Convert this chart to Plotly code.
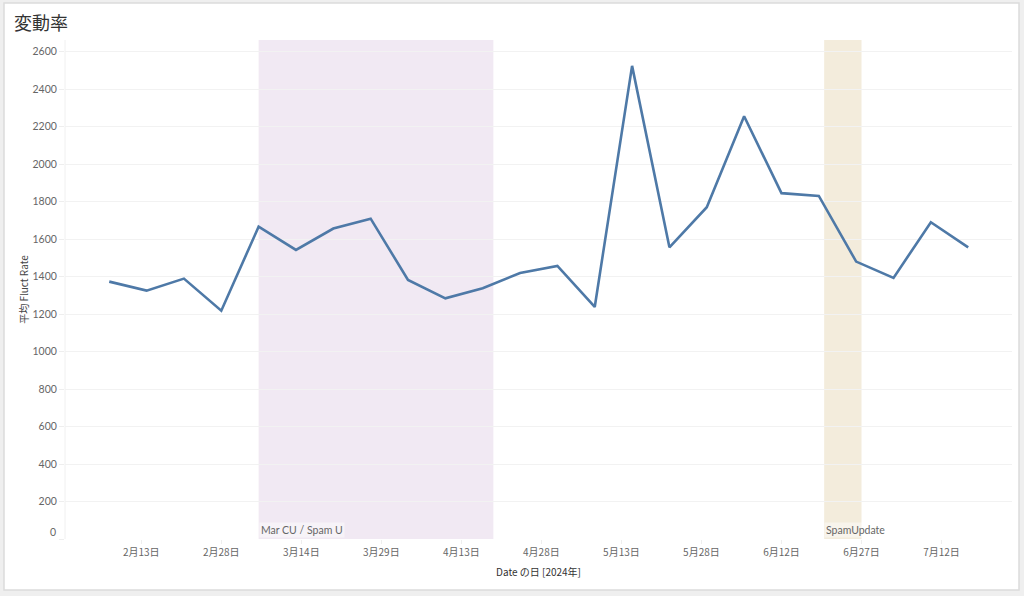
import plotly.graph_objects as go
import pandas as pd

# ---- data ----
dates = pd.date_range("2024-02-07", periods=24, freq="7D").strftime("%Y-%m-%d").tolist()
fluct_rate = [1373, 1325, 1389, 1218, 1666, 1542, 1656, 1709, 1382, 1284, 1338, 1419,
              1457, 1238, 2524, 1556, 1770, 2255, 1845, 1830, 1480, 1393, 1690, 1556]

band_labels = ["Mar CU / Spam U", "SpamUpdate"]
band_starts = ["2024-03-06", "2024-06-20"]
band_ends = ["2024-04-19", "2024-06-27"]
band_colors = ["rgba(241,233,243,1)", "rgba(243,236,220,1)"]

tick_dates = pd.date_range("2024-02-13", periods=11, freq="15D").strftime("%Y-%m-%d").tolist()
y_ticks = list(range(0, 2601, 200))
y_ticktext = ["" if v == 0 else str(v) for v in y_ticks]

x_range = ["2024-01-29 17:00", "2024-07-25 05:00"]
y_range = [0, 2662]

# ---- figure ----
W, H = 1024, 596
ML, MR, MT, MB = 65, 12, 40, 57
PW, PH = W - ML - MR, H - MT - MB


def px_x(p):
    return (p - ML) / PW


def px_y(p):
    return (H - MB - p) / PH


font_jp = "Noto Sans CJK JP, Lato, sans-serif"

fig = go.Figure()

fig.add_trace(go.Scatter(
    x=dates, y=fluct_rate, mode="lines",
    line=dict(color="#4e79a7", width=2.6),
    showlegend=False, hoverinfo="x+y",
))

shapes = []
# panel
shapes.append(dict(type="rect", xref="paper", yref="paper",
                   x0=px_x(4), x1=px_x(1019), y0=px_y(590), y1=px_y(3),
                   fillcolor="white", line=dict(color="#dcdcdc", width=1.5), layer="below"))
for s, e, c in zip(band_starts, band_ends, band_colors):
    shapes.append(dict(type="rect", xref="x", yref="paper", x0=s, x1=e, y0=0, y1=1,
                       fillcolor=c, line=dict(width=0), layer="below"))
# left axis line
shapes.append(dict(type="line", xref="paper", yref="paper", x0=0, x1=0, y0=0, y1=1,
                   line=dict(color="#f0f0f0", width=1), layer="below"))

annotations = [
    dict(text="変動率", xref="paper", yref="paper", x=px_x(12), y=px_y(22),
         xanchor="left", yanchor="middle", showarrow=False,
         font=dict(family=font_jp, size=18, color="#333333")),
    # zero label, nudged up as in the reference
    dict(text="0", xref="paper", yref="y", x=0, y=0, xanchor="right", yanchor="middle",
         xshift=-7, yshift=7, showarrow=False,
         font=dict(family="Lato, sans-serif", size=10.5, color="#666666")),
]
for lab, s in zip(band_labels, band_starts):
    annotations.append(dict(text=lab, xref="x", yref="paper", x=s, y=0,
                            xanchor="left", yanchor="bottom", yshift=1, showarrow=False,
                            font=dict(family="Lato, sans-serif", size=10.5, color="#666666"),
                            bgcolor="rgba(255,255,255,0.45)", borderpad=1))

fig.update_layout(
    width=W, height=H,
    margin=dict(l=ML, r=MR, t=MT, b=MB),
    paper_bgcolor="#efefef", plot_bgcolor="rgba(0,0,0,0)",
    shapes=shapes, annotations=annotations,
    font=dict(family=font_jp, color="#666666"),
    xaxis=dict(
        range=x_range, tickvals=tick_dates, tickformat="%-m月%-d日",
        showgrid=False, zeroline=False, showline=False,
        ticks="outside", ticklen=4, tickcolor="#eeeeee",
        tickfont=dict(family=font_jp, size=10, color="#666666"),
        title=dict(text="Date の日 [2024年]", standoff=10,
                   font=dict(family=font_jp, size=10, color="#333333")),
    ),
    yaxis=dict(
        range=y_range, tickvals=y_ticks, ticktext=y_ticktext,
        showgrid=True, gridcolor="#f2f2f2", gridwidth=1,
        zeroline=False, showline=False,
        ticks="outside", ticklen=5, tickcolor="#eeeeee",
        tickfont=dict(family="Lato, sans-serif", size=10.5, color="#666666"),
        title=dict(text="平均 Fluct Rate", standoff=2,
                   font=dict(family=font_jp, size=10, color="#444444")),
    ),
)

fig.write_html("out.html")
